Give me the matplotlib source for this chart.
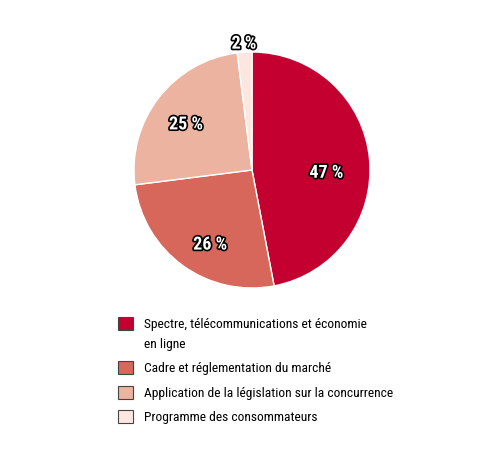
import matplotlib
matplotlib.use("Agg")
import matplotlib.pyplot as plt
import matplotlib.patheffects as pe
from matplotlib.patches import Patch
import numpy as np

# Data
categories = [
    "Spectre, télécommunications et économie\nen ligne",
    "Cadre et réglementation du marché",
    "Application de la législation sur la concurrence",
    "Programme des consommateurs",
]
shares = [47, 26, 25, 2]
colors = ["#C3002F", "#D6675A", "#EBB3A0", "#FBE7E0"]

# label placement per slice (radius fraction, angle nudge in degrees)
label_dist = [0.63, 0.71, 0.69, 1.09]
label_nudge = [-6, 6, 2, 0]

plt.rcParams['font.family'] = ['Roboto Condensed', 'DejaVu Sans']

W, H = 500, 456
fig = plt.figure(figsize=(W / 100, H / 100), dpi=100)

# pie centre ~ (252, 171) px, radius ~118 px
cx, cy, r = 252, 171, 118
ax = fig.add_axes([(cx - r) / W, (H - cy - r) / H, 2 * r / W, 2 * r / H])

wedges, texts = ax.pie(shares, colors=colors, startangle=90, counterclock=False,
                       wedgeprops=dict(edgecolor="white", linewidth=1))
ax.set_xlim(-1, 1)
ax.set_ylim(-1, 1)
ax.set_aspect("equal")
ax.axis("off")

# percentage labels, white with a black outline
outline = [pe.withStroke(linewidth=2.4, foreground="black")]
for w, val, d, nudge in zip(wedges, shares, label_dist, label_nudge):
    ang = np.deg2rad((w.theta1 + w.theta2) / 2 + nudge)
    ax.text(d * np.cos(ang), d * np.sin(ang), f"{val} %",
            ha="center", va="center_baseline", color="white", fontsize=13,
            fontweight="bold", path_effects=outline)

handles = [Patch(facecolor=c, edgecolor="#444444", linewidth=0.8) for c in colors]
leg = fig.legend(handles, categories, loc="upper left",
                 bbox_to_anchor=(118 / W, 1 - 318 / H), frameon=False,
                 fontsize=9.7, handlelength=1.1, handleheight=1.1,
                 handletextpad=0.85, labelspacing=0.85, borderpad=0, borderaxespad=0)
for t in leg.get_texts():
    t.set_linespacing(1.68)
# keep the swatch level with the first line of a wrapped label
for col in leg._legend_handle_box.get_children():
    for item in col.get_children():
        item.align = "top"

fig.savefig("out.png", dpi=100)
